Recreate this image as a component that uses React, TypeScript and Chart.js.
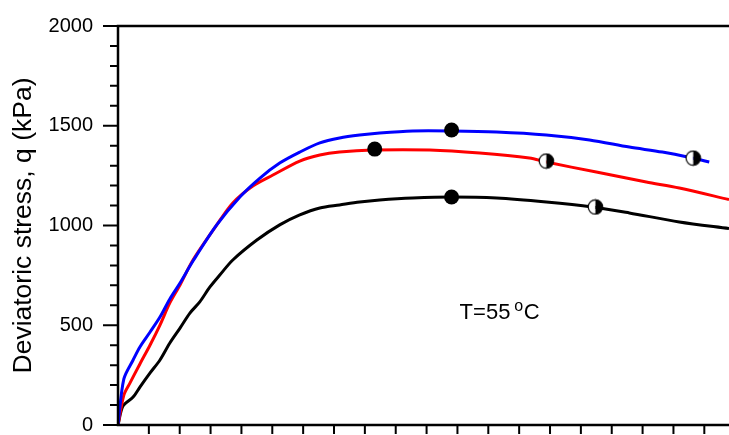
import React, { useEffect, useRef } from 'react';
import { Chart, registerables } from 'chart.js';
Chart.register(...registerables);

// Axial strain (x) and deviatoric stress q (kPa) for each curve
const blueX = [0, 0.19, 0.49, 0.71, 1.04, 1.36, 1.68, 2.01, 2.43, 3.2, 3.95, 4.6, 5.24, 5.89, 6.54, 7.18, 7.83, 8.48, 9.55, 10.81, 12.27, 13.88, 15.28, 16.57, 17.64, 18.61, 19.16];
const blueY = [0, 231, 326, 391, 466, 541, 632, 712, 822, 1003, 1143, 1238, 1313, 1368, 1414, 1439, 1454, 1464, 1474, 1474, 1469, 1454, 1429, 1393, 1368, 1338, 1318];

const redX = [0, 0.19, 0.39, 0.71, 1.04, 1.36, 1.68, 2.01, 2.43, 3.2, 3.72, 4.37, 5.02, 5.89, 6.54, 7.18, 8.25, 10.1, 11.72, 13.33, 13.88, 15.5, 17.12, 18.19, 19.8];
const redY = [0, 150, 211, 306, 401, 501, 612, 702, 827, 1003, 1113, 1198, 1253, 1323, 1353, 1368, 1378, 1378, 1363, 1338, 1318, 1268, 1218, 1188, 1130];

const blackX = [0, 0.16, 0.49, 0.71, 1.04, 1.36, 1.68, 2.01, 2.33, 2.65, 2.98, 3.3, 3.72, 4.5, 5.24, 5.89, 6.54, 7.18, 7.83, 8.48, 9.55, 10.81, 12.27, 13.88, 15.37, 16.57, 18.19, 19.8];
const blackY = [0, 95, 140, 190, 261, 326, 411, 486, 561, 617, 692, 752, 827, 927, 1003, 1053, 1088, 1103, 1118, 1128, 1138, 1143, 1138, 1118, 1093, 1063, 1018, 985];

// Peak markers (filled) and half-filled markers
const peakX = [10.81, 8.32, 10.81];
const peakY = [1479, 1383, 1143];
const halfX = [13.88, 15.47, 18.64];
const halfY = [1323, 1093, 1338];

const yTickValues = [0, 500, 1000, 1500, 2000];
const yMinorStep = 100;
const xTickStep = 1;
const xMax = 19.8;
const annotationText = 'T=55';
const annotationUnit = 'C';
const annotationPos = { x: 11.07, y: 530 };

const FONT = "Arial, 'Liberation Sans', sans-serif";

function toPts(xs: number[], ys: number[]) {
  return xs.map((x, i) => ({ x, y: ys[i] }));
}

function makeHalfMarker(): HTMLCanvasElement {
  const c = document.createElement('canvas');
  c.width = 17;
  c.height = 17;
  const ctx = c.getContext('2d')!;
  const cx = 8.5, cy = 8.5, r = 7.2;
  ctx.fillStyle = '#fff';
  ctx.beginPath();
  ctx.arc(cx, cy, r, Math.PI / 2, Math.PI * 1.5);
  ctx.closePath();
  ctx.fill();
  ctx.fillStyle = '#000';
  ctx.beginPath();
  ctx.arc(cx, cy, r, -Math.PI / 2, Math.PI / 2);
  ctx.closePath();
  ctx.fill();
  ctx.strokeStyle = '#000';
  ctx.lineWidth = 1.2;
  ctx.beginPath();
  ctx.arc(cx, cy, r, 0, Math.PI * 2);
  ctx.stroke();
  return c;
}

const framePlugin = {
  id: 'frame',
  afterDatasetsDraw(chart: any) {
    const { ctx, chartArea } = chart;
    const xs = chart.scales.x;
    const ys = chart.scales.y;
    const { left, right, top, bottom } = chartArea;
    ctx.save();
    ctx.strokeStyle = '#000';
    ctx.lineWidth = 2.5;
    ctx.lineCap = 'butt';
    ctx.beginPath();
    ctx.moveTo(left, bottom);
    ctx.lineTo(left, top);
    ctx.moveTo(left - 1.25, bottom);
    ctx.lineTo(right, bottom);
    ctx.moveTo(left - 1.25, top);
    ctx.lineTo(right, top);
    ctx.stroke();
    ctx.lineWidth = 2;
    ctx.beginPath();
    for (let v = 0; v <= 2000; v += yMinorStep) {
      const py = ys.getPixelForValue(v);
      const major = yTickValues.includes(v);
      ctx.moveTo(left - (major ? 15 : 8), py);
      ctx.lineTo(left, py);
    }
    for (let v = xTickStep; v <= xMax; v += xTickStep) {
      const px = xs.getPixelForValue(v);
      ctx.moveTo(px, bottom);
      ctx.lineTo(px, bottom + 9);
    }
    ctx.stroke();

    // annotation
    const ax = xs.getPixelForValue(annotationPos.x);
    const ay = ys.getPixelForValue(annotationPos.y);
    ctx.fillStyle = '#000';
    ctx.textBaseline = 'alphabetic';
    ctx.textAlign = 'left';
    ctx.font = `22px ${FONT}`;
    ctx.fillText(annotationText, ax, ay);
    const w1 = ctx.measureText(annotationText).width;
    ctx.font = `16px ${FONT}`;
    ctx.fillText('o', ax + w1 + 4, ay - 8.5);
    const w2 = ctx.measureText('o').width;
    ctx.font = `22px ${FONT}`;
    ctx.fillText(annotationUnit, ax + w1 + 4 + w2 + 0.5, ay);
    ctx.restore();
  },
};

export default function App() {
  const ref = useRef<HTMLCanvasElement>(null);
  useEffect(() => {
    document.body.style.margin = '0';
    const half = makeHalfMarker();
    const lineDs = (label: string, color: string, xs: number[], ys: number[]) => ({
      type: 'line' as const,
      label,
      data: toPts(xs, ys),
      borderColor: color,
      borderWidth: 3,
      pointRadius: 0,
      pointHoverRadius: 0,
      tension: 0.3,
      fill: false,
      order: 2,
    });
    const chart = new Chart(ref.current!, {
      type: 'line',
      data: {
        datasets: [
          {
            type: 'scatter' as const,
            label: 'peak',
            data: toPts(peakX, peakY),
            pointStyle: 'circle',
            pointRadius: 7.5,
            pointHoverRadius: 7.5,
            backgroundColor: '#000',
            borderColor: '#000',
            borderWidth: 0,
            order: 0,
          } as any,
          {
            type: 'scatter' as const,
            label: 'half',
            data: toPts(halfX, halfY),
            pointStyle: half,
            pointRadius: 8,
            pointHoverRadius: 8,
            order: 0,
          } as any,
          lineDs('blue', '#0000ff', blueX, blueY),
          lineDs('red', '#ff0000', redX, redY),
          lineDs('black', '#000000', blackX, blackY),
        ],
      },
      options: {
        responsive: false,
        animation: false,
        events: [],
        layout: { autoPadding: false, padding: { top: 26, right: 0, bottom: 0, left: 0 } },
        plugins: { legend: { display: false }, tooltip: { enabled: false } },
        scales: {
          x: {
            type: 'linear',
            min: 0,
            max: xMax,
            ticks: { display: false },
            grid: { display: false, drawTicks: false },
            border: { display: false },
            afterFit: (s: any) => {
              s.height = 10;
              s.paddingLeft = 0;
              s.paddingRight = 0;
            },
          },
          y: {
            type: 'linear',
            min: 0,
            max: 2000,
            afterBuildTicks: (s: any) => {
              s.ticks = yTickValues.map((v) => ({ value: v }));
            },
            ticks: {
              font: { family: FONT, size: 20 },
              color: '#000',
              padding: 25,
              callback: (v: any) => String(v),
            },
            grid: { display: false, drawTicks: false },
            border: { display: false },
            title: {
              display: true,
              text: 'Deviatoric stress, q (kPa)',
              font: { family: FONT, size: 26.5 },
              color: '#000',
              padding: { top: 8, bottom: 0 },
            },
            afterFit: (s: any) => {
              s.width = 118;
              s.paddingTop = 0;
              s.paddingBottom = 0;
            },
          },
        },
      },
      plugins: [framePlugin],
    });
    return () => chart.destroy();
  }, []);
  return <canvas ref={ref} width={729} height={435} style={{ display: 'block' }} />;
}
